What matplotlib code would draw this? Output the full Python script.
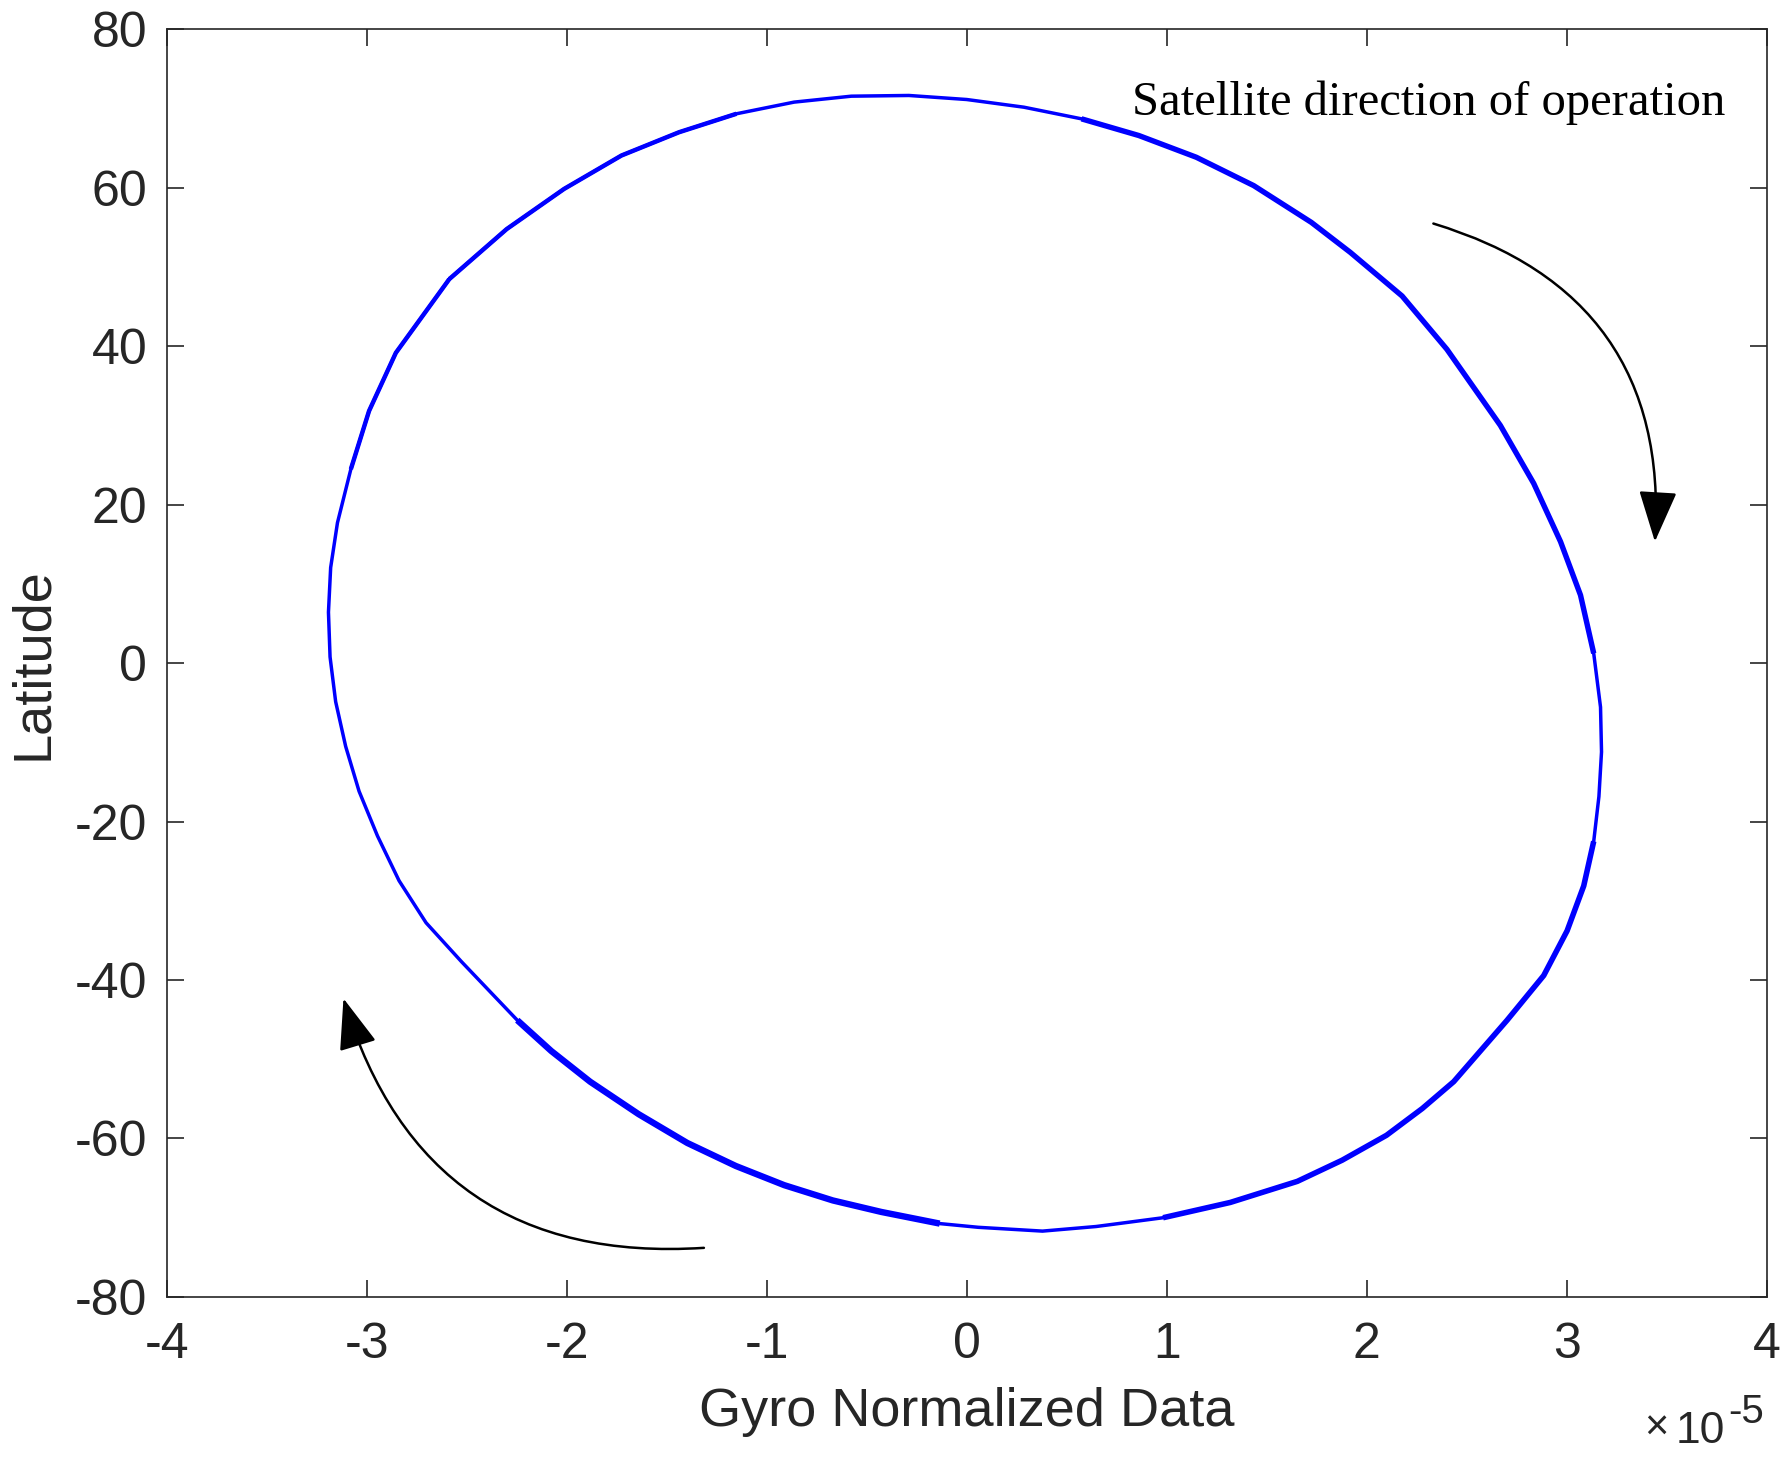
import numpy as np
import matplotlib
matplotlib.use('Agg')
import matplotlib.pyplot as plt
from matplotlib.patches import FancyArrowPatch

plt.rcParams['font.family'] = ['Liberation Sans', 'DejaVu Sans']
plt.rcParams['axes.unicode_minus'] = False

# gyro normalized data (units of 1e-5) vs latitude, read clockwise round the loop
gyro = [-2.587, -2.300, -2.013, -1.726, -1.438, -1.151, -0.863, -0.577, -0.289, 0.000,
        0.286, 0.574, 0.861, 1.148, 1.435, 1.723, 1.918, 2.177, 2.401, 2.668,
        2.835, 2.969, 3.069, 3.135, 3.169, 3.174, 3.161, 3.135, 3.085, 3.002,
        2.885, 2.702, 2.435, 2.278, 2.099, 1.877, 1.653, 1.318, 0.982, 0.647,
        0.379, 0.058, -0.135, -0.427, -0.669, -0.912, -1.154, -1.397, -1.640, -1.883,
        -2.077, -2.247, -2.526, -2.703, -2.838, -2.946, -3.038, -3.105, -3.155, -3.183,
        -3.191, -3.180, -3.146, -3.079, -2.988, -2.854, -2.587]
lat = [48.48, 54.80, 59.87, 64.09, 67.03, 69.36, 70.83, 71.58, 71.67, 71.16,
       70.19, 68.72, 66.61, 63.87, 60.29, 55.65, 51.86, 46.35, 39.62, 30.02,
       22.69, 15.34, 8.58, 1.23, -5.55, -11.21, -16.84, -22.50, -28.13, -33.79,
       -39.44, -45.08, -52.84, -56.23, -59.61, -62.76, -65.43, -68.09, -70.02, -71.13,
       -71.71, -71.23, -70.76, -69.29, -67.84, -65.91, -63.49, -60.58, -56.95, -52.84,
       -48.97, -45.08, -37.69, -32.78, -27.47, -21.81, -16.17, -10.51, -4.87, 0.78,
       6.43, 12.06, 17.72, 24.49, 31.84, 39.18, 48.48]

xticks = [-4, -3, -2, -1, 0, 1, 2, 3, 4]
yticks = [-80, -60, -40, -20, 0, 20, 40, 60, 80]

# direction arrows: (start, end) in data units
arrow_right = ((2.32, 55.6), (3.44, 15.0))
arrow_left = ((-1.30, -73.8), (-3.12, -42.0))

gyro = np.array(gyro)
lat = np.array(lat)

fig = plt.figure(figsize=(17.9, 14.6), dpi=100)
ax = fig.add_axes([0.0931, 0.1118, 0.8939, 0.8680])

ax.plot(gyro, lat, color='#0000ff', lw=2.5, solid_joinstyle='round')
# overlapping orbits make parts of the loop look thicker
for a, b, w in [(11, 23, 3.9), (27, 38, 4.0), (42, 51, 4.6), (63, 66, 3.2), (0, 5, 3.2)]:
    ax.plot(gyro[a:b + 1], lat[a:b + 1], color='#0000ff', lw=w,
            solid_capstyle='butt', solid_joinstyle='round')

ax.set_xlim(-4, 4)
ax.set_ylim(-80, 80)
ax.set_xticks(xticks)
ax.set_yticks(yticks)
ax.tick_params(direction='in', length=12, width=1.2, colors='#262626',
               labelsize=36, top=True, right=True)
ax.tick_params(axis='x', pad=18)
ax.tick_params(axis='y', pad=14)
for s in ax.spines.values():
    s.set_color('#262626')
    s.set_linewidth(1.2)

ax.set_xlabel('Gyro Normalized Data', fontsize=39, color='#262626', labelpad=14)
ax.set_ylabel('Latitude', fontsize=39, color='#262626', labelpad=12)

# x10^-5 factor under the right end of the x axis
fig.text(0.9251, 0.0212, '\u00d7', fontsize=30, color='#262626',
         ha='center', va='center')
fig.text(0.9635, 0.0116, '10', fontsize=32, color='#262626',
         ha='right', va='baseline')
fig.text(0.9855, 0.0253, '-5', fontsize=29, color='#262626',
         ha='right', va='baseline')

ax.text(0.826, 69.2, 'Satellite direction of operation', fontsize=35,
        family='Liberation Serif', color='black', va='baseline')

for (p0, p1) in [arrow_right, arrow_left]:
    arr = FancyArrowPatch(p0, p1, connectionstyle='arc3,rad=-0.4',
                          arrowstyle='-|>,head_length=1.6,head_width=0.6',
                          mutation_scale=20, color='black', lw=1.8)
    ax.add_patch(arr)

fig.savefig('out.png', dpi=100)
